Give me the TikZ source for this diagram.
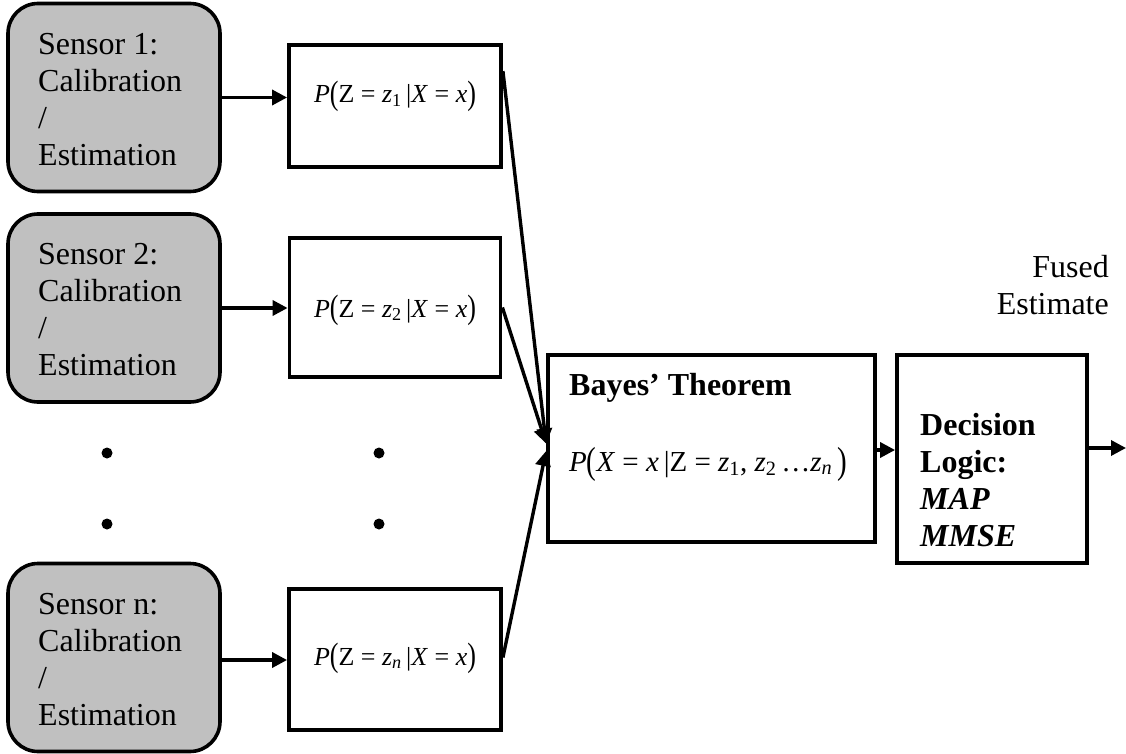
\documentclass[tikz,border=0pt]{standalone}
\usepackage{fontspec}
\setmainfont{Liberation Serif}
\usepackage{graphicx}
\usetikzlibrary{arrows.meta,calc}
\definecolor{sensorgray}{RGB}{192,192,192}
\newcommand{\myLP}{\raisebox{-0.07em}{\scalebox{1}[1.3]{(}}}
\newcommand{\myRP}{\raisebox{-0.07em}{\scalebox{1}[1.3]{)}}}
\begin{document}
\begin{tikzpicture}[x=1pt,y=-1pt,
  sensorbox/.style={draw, line width=3.6pt, fill=sensorgray, rounded corners=30pt,
    minimum width=212pt, minimum height=188pt, inner sep=0pt},
  sensortext/.style={anchor=north west, align=left, inner sep=0pt,
    font=\fontsize{32}{37}\selectfont},
  probbox/.style={draw, line width=3.8pt, fill=white, inner sep=0pt},
  probtext/.style={anchor=base, inner sep=0pt, font=\fontsize{26}{30}\selectfont},
  bigtext/.style={inner sep=0pt, font=\fontsize{32}{37}\selectfont},
  dotnode/.style={circle, fill=black, inner sep=0pt, minimum size=11pt},
  arr/.style={line width=3.4pt, -{Triangle[length=15pt,width=15pt]}}
]
\useasboundingbox (0,0) rectangle (1126,754);

% sensor boxes
\node[sensorbox] (s1) at (114,97.5) {};
\node[sensorbox] (s2) at (114,308) {};
\node[sensorbox] (sn) at (114,657.5) {};
\node[sensortext] (s1t) at (38,33.3) {Sensor 1:\\Calibration\\/\\Estimation};
\node[sensortext] (s2t) at (38,243.3) {Sensor 2:\\Calibration\\/\\Estimation};
\node[sensortext] (snt) at (38,593.3) {Sensor n:\\Calibration\\/\\Estimation};

% likelihood boxes
\node[probbox, minimum width=212pt, minimum height=122pt] (p1) at (395,106) {};
\node[probbox, minimum width=211pt, minimum height=139pt] (p2) at (395,307.5) {};
\node[probbox, minimum width=212pt, minimum height=141pt] (pn) at (395,659.5) {};
\node[probtext] (p1t) at (395,103) {\textit{P}\myLP Z = \textit{z}\textsubscript{1}\,|\textit{X} = \textit{x}\myRP};
\node[probtext] (p2t) at (395,317) {\textit{P}\myLP Z = \textit{z}\textsubscript{2}\,|\textit{X} = \textit{x}\myRP};
\node[probtext] (pnt) at (395,665) {\textit{P}\myLP Z = \textit{z}\textsubscript{\textit{n}}\,|\textit{X} = \textit{x}\myRP};

% dots
\node[dotnode] (d1) at (107,453) {};
\node[dotnode] (d2) at (107,524) {};
\node[dotnode] (d3) at (379,453) {};
\node[dotnode] (d4) at (379,524) {};

% Bayes box
\node[probbox, minimum width=327pt, minimum height=187pt] (bayes) at (711.5,448.5) {};
\node[bigtext, anchor=base west, font=\fontsize{32}{37}\selectfont\bfseries] (bt) at (569,395) {Bayes’ Theorem};
\node[anchor=base west, inner sep=0pt, font=\fontsize{29}{33}\selectfont] (bf) at (569,471)
  {\textit{P}\myLP\textit{X} = \textit{x}\,|Z = \textit{z}\textsubscript{1}, \textit{z}\textsubscript{2}\,\ldots\textit{z}\textsubscript{\textit{n}}\,\myRP};

% decision box
\node[probbox, minimum width=190pt, minimum height=208pt] (dec) at (992,459) {};
\node[bigtext, anchor=north west, align=left, font=\fontsize{32}{37}\selectfont\bfseries] (dect) at (920,413.3)
  {Decision\\Logic:\\\textit{MAP}\\\textit{MMSE}};

% output label
\node[bigtext, anchor=north east, align=right] (fused) at (1109,255.3) {Fused\\Estimate};

% connectors
\draw[arr] (s1.east) -- (s1.east -| p1.west);
\draw[arr] (s2.east) -- (s2.east -| p2.west);
\draw[arr] ([yshift=-2.5pt]sn.east) -- ([yshift=-2.5pt]sn.east -| pn.west);
\draw[arr] ([yshift=-28pt]p1.north east) -- ([yshift=5pt]bayes.west);
\draw[arr] (p2.east) -- ([yshift=5pt]bayes.west);
\draw[arr] ([yshift=2pt]pn.east) -- ([yshift=-2.5pt]bayes.west);
\draw[arr] ([yshift=-1.5pt]bayes.east) -- ([yshift=-1.5pt]bayes.east -| dec.west);
\coordinate (out) at (1126,448);
\draw[arr] (dec.east |- out) -- (out);
\end{tikzpicture}
\end{document}
